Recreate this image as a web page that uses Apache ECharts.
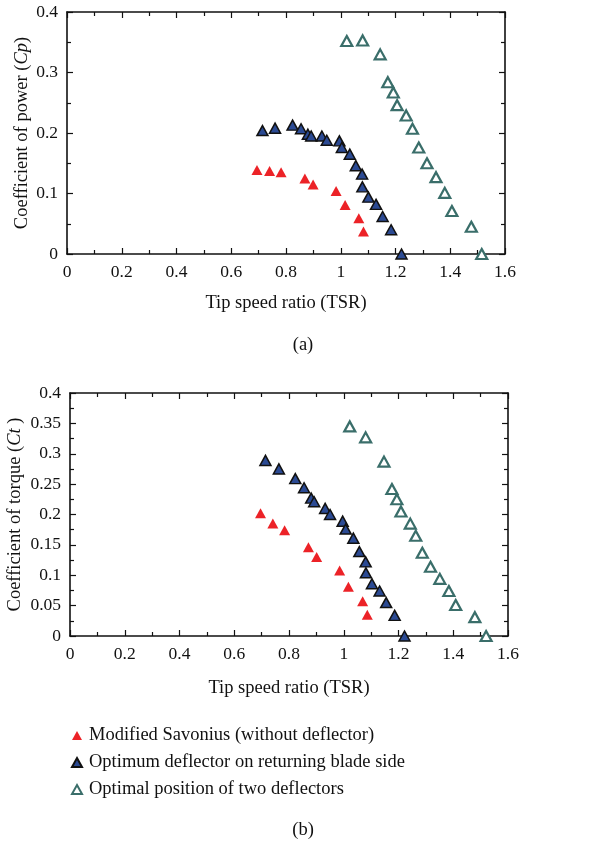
<!DOCTYPE html>
<html><head><meta charset="utf-8">
<script src="https://cdn.jsdelivr.net/npm/echarts@6/dist/echarts.min.js"></script>
<style>html,body{margin:0;padding:0;background:#fff}#c{width:606px;height:843px}</style>
</head><body><div id="c"></div>
<script>
// Series names
const seriesNames = ['Modified Savonius (without deflector)', 'Optimum deflector on returning blade side', 'Optimal position of two deflectors'];
// Chart (a): Cp vs TSR
const cpRedTSR = [0.694, 0.740, 0.782, 0.869, 0.899, 0.983, 1.016, 1.066, 1.083];
const cpRedVal = [0.139, 0.137, 0.135, 0.125, 0.115, 0.104, 0.081, 0.059, 0.037];
const cpBlueTSR = [0.714, 0.760, 0.824, 0.855, 0.880, 0.892, 0.931, 0.949, 0.995, 1.004, 1.033, 1.055, 1.078, 1.079, 1.101, 1.129, 1.153, 1.184, 1.222];
const cpBlueVal = [0.204, 0.208, 0.213, 0.207, 0.198, 0.195, 0.195, 0.188, 0.187, 0.176, 0.165, 0.146, 0.132, 0.111, 0.094, 0.082, 0.062, 0.040, 0.000];
const cpGreenTSR = [1.022, 1.080, 1.144, 1.172, 1.192, 1.206, 1.239, 1.262, 1.285, 1.315, 1.348, 1.380, 1.406, 1.477, 1.515];
const cpGreenVal = [0.352, 0.353, 0.330, 0.284, 0.267, 0.246, 0.229, 0.207, 0.176, 0.150, 0.127, 0.101, 0.071, 0.045, 0.000];
// Chart (b): Ct vs TSR
const ctRedTSR = [0.696, 0.741, 0.784, 0.871, 0.901, 0.985, 1.017, 1.069, 1.086];
const ctRedVal = [0.202, 0.185, 0.174, 0.146, 0.130, 0.108, 0.081, 0.057, 0.035];
const ctBlueTSR = [0.714, 0.763, 0.823, 0.855, 0.881, 0.892, 0.932, 0.950, 0.996, 1.007, 1.035, 1.057, 1.080, 1.081, 1.103, 1.131, 1.155, 1.186, 1.222];
const ctBlueVal = [0.289, 0.275, 0.259, 0.244, 0.227, 0.221, 0.210, 0.200, 0.189, 0.176, 0.161, 0.139, 0.122, 0.104, 0.086, 0.074, 0.055, 0.034, 0.000];
const ctGreenTSR = [1.022, 1.080, 1.147, 1.176, 1.194, 1.209, 1.243, 1.263, 1.287, 1.317, 1.351, 1.384, 1.409, 1.479, 1.520];
const ctGreenVal = [0.345, 0.327, 0.287, 0.242, 0.225, 0.205, 0.185, 0.165, 0.137, 0.114, 0.094, 0.074, 0.051, 0.031, 0.000];
// Axis tick settings
const xTicks = {min: 0, max: 1.6, interval: 0.2};
const yTicksA = {min: 0, max: 0.4, interval: 0.1};
const yTicksB = {min: 0, max: 0.4, interval: 0.05};
const captions = ['(a)', '(b)'];

const zip = (a, b) => a.map((v, i) => [v, b[i]]);
const FONT = '"Liberation Serif", "DejaVu Serif", serif';
const TICKFS = 17.5, NAMEFS = 18.5;
const styles = [
  {color: '#ec2227', borderColor: '#ec2227', borderWidth: 0},
  {color: '#2b4a93', borderColor: '#111111', borderWidth: 1.5},
  {color: '#ffffff', borderColor: '#3a6e6a', borderWidth: 2.2}
];
const axisLine = {show: true, onZero: false, lineStyle: {color: '#111', width: 1.6}};
function xAx(gi, pos, labels, name, gap) {
  return {
    type: 'value', gridIndex: gi, position: pos, min: xTicks.min, max: xTicks.max, interval: xTicks.interval,
    axisLine: axisLine,
    axisTick: {show: true, inside: true, length: 6, lineStyle: {color: '#111', width: 1.2}},
    minorTick: {show: true, splitNumber: 2, length: 4, lineStyle: {color: '#111', width: 1.2}},
    splitLine: {show: false},
    axisLabel: {show: labels, fontFamily: FONT, fontSize: TICKFS, color: '#111', margin: 9, formatter: v => String(+v.toFixed(2))},
    name: name || '', nameLocation: 'middle', nameGap: gap || 40, nameMoveOverlap: false,
    nameTextStyle: {fontFamily: FONT, fontSize: NAMEFS, color: '#111'}
  };
}
function yAx(gi, pos, labels, t, name, gap) {
  return {
    type: 'value', gridIndex: gi, position: pos, min: t.min, max: t.max, interval: t.interval,
    axisLine: axisLine,
    axisTick: {show: true, inside: true, length: 6, lineStyle: {color: '#111', width: 1.2}},
    minorTick: {show: true, splitNumber: 2, length: 4, lineStyle: {color: '#111', width: 1.2}},
    splitLine: {show: false},
    axisLabel: {show: labels, fontFamily: FONT, fontSize: TICKFS, color: '#111', margin: 9, formatter: v => String(+v.toFixed(3))},
    name: name || '', nameLocation: 'middle', nameGap: gap || 44, nameMoveOverlap: false,
    nameTextStyle: {fontFamily: FONT, fontSize: NAMEFS, color: '#111', rich: {i: {fontFamily: FONT, fontSize: NAMEFS, fontStyle: 'italic', color: '#111'}}}
  };
}
const mk = (name, data, xi, yi, s) => ({
  name: name, type: 'scatter', xAxisIndex: xi, yAxisIndex: yi, data: data,
  symbol: 'triangle', symbolSize: [11, 10], clip: false,
  itemStyle: Object.assign({opacity: 1}, s), emphasis: {disabled: true}
});
const chart = echarts.init(document.getElementById('c'), null, {renderer: 'canvas'});
chart.setOption({
  animation: false,
  backgroundColor: '#fff',
  title: [
    {text: captions[0], left: 'center', top: 331, textStyle: {fontFamily: FONT, fontSize: NAMEFS, fontWeight: 'normal', color: '#111'}},
    {text: captions[1], left: 'center', top: 816, textStyle: {fontFamily: FONT, fontSize: NAMEFS, fontWeight: 'normal', color: '#111'}}
  ],
  grid: [
    {left: 67, top: 12, width: 438, height: 242, containLabel: false, outerBoundsMode: 'none'},
    {left: 70, top: 393, width: 438, height: 243, containLabel: false, outerBoundsMode: 'none'}
  ],
  xAxis: [
    xAx(0, 'bottom', true, 'Tip speed ratio (TSR)', 40), xAx(0, 'top', false),
    xAx(1, 'bottom', true, 'Tip speed ratio (TSR)', 43), xAx(1, 'top', false)
  ],
  yAxis: [
    yAx(0, 'left', true, yTicksA, 'Coefficient of power ({i|Cp})', 35), yAx(0, 'right', false, yTicksA),
    yAx(1, 'left', true, yTicksB, 'Coefficient of torque ({i|Ct })', 45), yAx(1, 'right', false, yTicksB)
  ],
  legend: {
    orient: 'vertical', left: 66, top: 721, itemGap: 8, itemWidth: 10, itemHeight: 9,
    textStyle: {fontFamily: FONT, fontSize: NAMEFS, color: '#111', padding: [0, 0, 0, 2]},
    data: seriesNames.map(n => ({name: n, icon: 'triangle'}))
  },
  series: [
    mk(seriesNames[0], zip(cpRedTSR, cpRedVal), 0, 0, styles[0]),
    mk(seriesNames[1], zip(cpBlueTSR, cpBlueVal), 0, 0, styles[1]),
    mk(seriesNames[2], zip(cpGreenTSR, cpGreenVal), 0, 0, styles[2]),
    mk(seriesNames[0], zip(ctRedTSR, ctRedVal), 2, 2, styles[0]),
    mk(seriesNames[1], zip(ctBlueTSR, ctBlueVal), 2, 2, styles[1]),
    mk(seriesNames[2], zip(ctGreenTSR, ctGreenVal), 2, 2, styles[2])
  ]
});
</script></body></html>
